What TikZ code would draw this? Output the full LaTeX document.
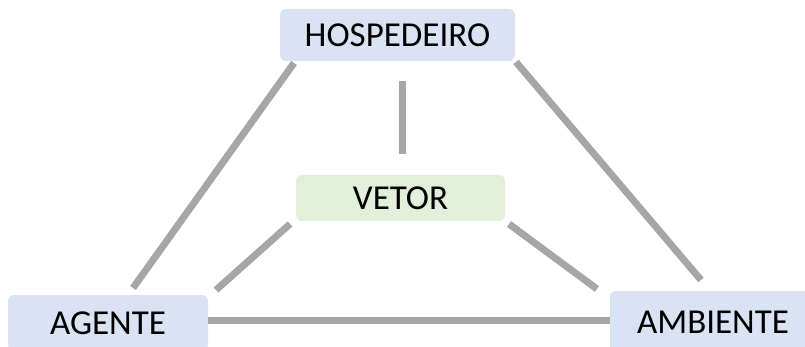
\documentclass[tikz,border=0pt]{standalone}
\usepackage{fontspec}
\setmainfont{Carlito}
\definecolor{boxblue}{HTML}{DAE3F3}
\definecolor{boxgreen}{HTML}{E2EFDA}
\definecolor{linegray}{HTML}{A6A6A6}
\begin{document}
\begin{tikzpicture}[x=1pt,y=-1pt,
  box/.style={rectangle, rounded corners=6pt, inner sep=0pt, font=\fontsize{35}{40}\selectfont, text=black},
  conn/.style={draw=linegray, line width=7pt}]
\useasboundingbox (0,0) rectangle (805,347);
\node[box, fill=boxblue, minimum width=235pt, minimum height=52pt] (hosp) at (397.5,35) {HOSPEDEIRO};
\node[box, fill=boxgreen, minimum width=209pt, minimum height=46pt] (vetor) at (400.5,198) {VETOR};
\node[box, fill=boxblue, minimum width=200pt, minimum height=56pt] (agente) at (108,323) {AGENTE};
\node[box, fill=boxblue, minimum width=206pt, minimum height=62pt] (ambiente) at (713,322) {AMBIENTE};
\coordinate (h1) at (294,63);
\coordinate (a1) at (133,288);
\coordinate (h2) at (516,62);
\coordinate (m1) at (701,280);
\coordinate (h3) at (402,81);
\coordinate (v0) at (402,154);
\coordinate (v1) at (290,224);
\coordinate (a2) at (216,290);
\coordinate (v2) at (509,224);
\coordinate (m2) at (597,289);
\coordinate (a3) at (208,320.5);
\coordinate (m3) at (610,320.5);
\draw[conn] (h1) -- (a1);
\draw[conn] (h2) -- (m1);
\draw[conn] (h3) -- (v0);
\draw[conn] (v1) -- (a2);
\draw[conn] (v2) -- (m2);
\draw[conn] (a3) -- (m3);
\end{tikzpicture}
\end{document}
